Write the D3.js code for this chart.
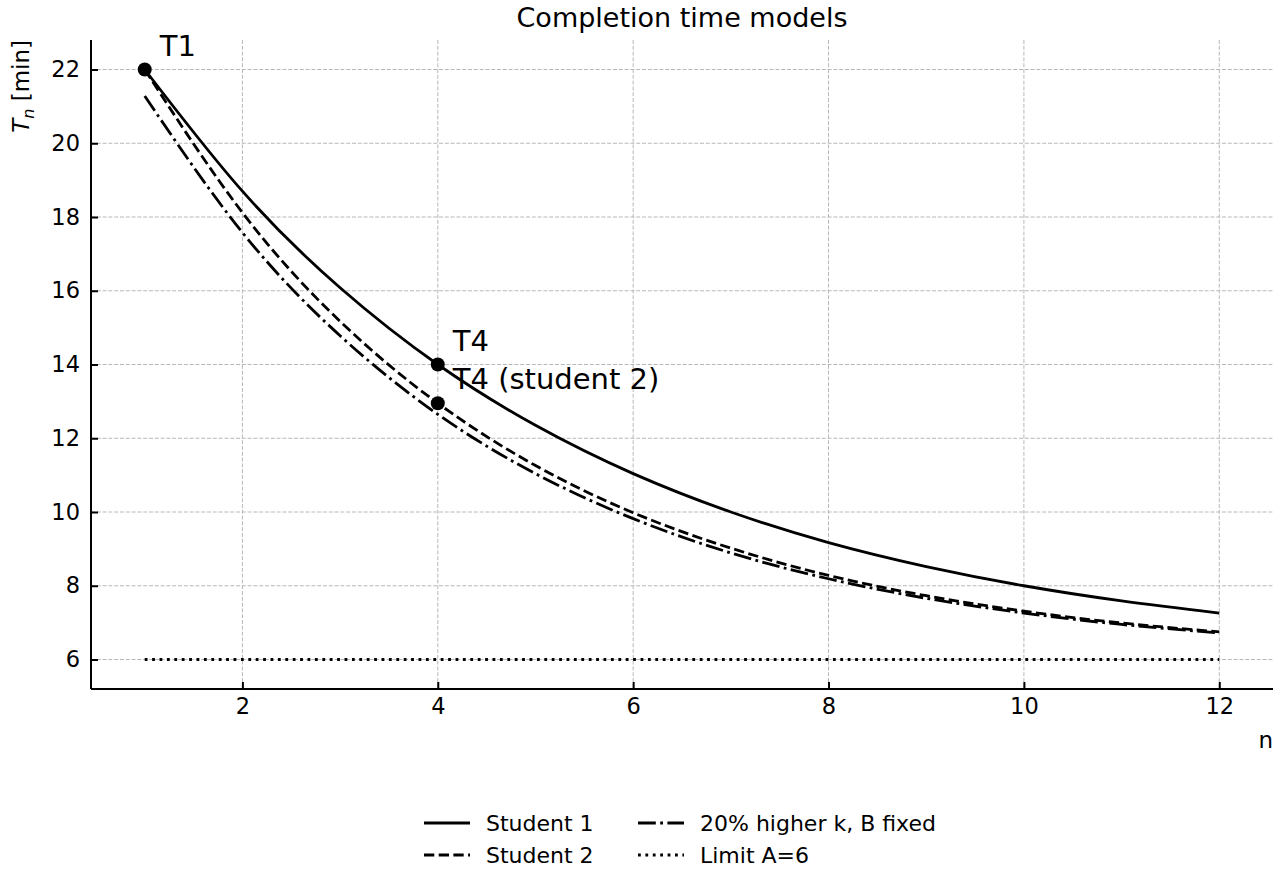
<!DOCTYPE html>
<html>
<head>
<meta charset="utf-8">
<script src="https://cdn.jsdelivr.net/npm/d3@7"></script>
<style>
    html, body { margin: 0; padding: 0; background: #fff; }
    svg { display: block; font-family: "DejaVu Sans", sans-serif; }
    .grid line { stroke: #b8b8b8; stroke-width: 1; stroke-dasharray: 4,1.8; }
</style>
</head>
<body>
<svg id="chart" width="1280" height="880"></svg>
<script>
// values, n = 1..12
var nValues = [1, 2, 3, 4, 5, 6, 7, 8, 9, 10, 11, 12];
var student1 = [22.00, 18.70, 16.08, 14.00, 12.35, 11.04, 10.00, 9.17, 8.52, 8.00, 7.59, 7.26];
var student2 = [22.00, 18.12, 15.17, 12.95, 11.26, 9.98, 9.02, 8.28, 7.73, 7.31, 6.99, 6.75];
var higherK = [21.28, 17.58, 14.78, 12.65, 11.04, 9.82, 8.89, 8.19, 7.66, 7.26, 6.95, 6.72];
var limitA = [6, 6];
var limitN = [1, 12];
var xTicks = [2, 4, 6, 8, 10, 12];
var yTicks = [6, 8, 10, 12, 14, 16, 18, 20, 22];
var markers = [
    {n: 1, t: 22.00, label: 'T1'},
    {n: 4, t: 14.00, label: 'T4'},
    {n: 4, t: 12.95, label: 'T4 (student 2)'}
];

var svg = d3.select('#chart');
var margin = {left: 91, right: 7, top: 40, bottom: 191};
var width = 1280 - margin.left - margin.right,
    height = 880 - margin.top - margin.bottom;

var x = d3.scaleLinear().domain([0.45, 12.55]).range([0, width]);
var y = d3.scaleLinear().domain([5.2, 22.8]).range([height, 0]);

var g = svg.append('g').attr('transform', 'translate(' + margin.left + ',' + margin.top + ')');

// grid
var grid = g.append('g').attr('class', 'grid');
grid.selectAll('line.gx').data(xTicks).enter().append('line')
    .attr('x1', function (d) { return x(d); }).attr('x2', function (d) { return x(d); })
    .attr('y1', 0).attr('y2', height);
grid.selectAll('line.gy').data(yTicks).enter().append('line')
    .attr('y1', function (d) { return y(d); }).attr('y2', function (d) { return y(d); })
    .attr('x1', 0).attr('x2', width);

// series
var series = [
    {name: 'Student 1', values: student1, dash: null},
    {name: 'Student 2', values: student2, dash: '10.3,4.4'},
    {name: '20% higher k, B fixed', values: higherK, dash: '17.8,4.4,2.8,4.4'}
];
var line = d3.line()
    .x(function (d) { return x(d[0]); })
    .y(function (d) { return y(d[1]); })
    .curve(d3.curveNatural);

series.forEach(function (s) {
    g.append('path')
        .datum(nValues.map(function (n, i) { return [n, s.values[i]]; }))
        .attr('d', line)
        .attr('fill', 'none')
        .attr('stroke', '#000')
        .attr('stroke-width', 2.8)
        .attr('stroke-dasharray', s.dash);
});
g.append('path')
    .datum(limitN.map(function (n, i) { return [n, limitA[i]]; }))
    .attr('d', d3.line().x(function (d) { return x(d[0]); }).y(function (d) { return y(d[1]); }))
    .attr('fill', 'none')
    .attr('stroke', '#000')
    .attr('stroke-width', 2.8)
    .attr('stroke-dasharray', '2.8,4.6');

// markers + annotations
g.selectAll('circle.pt').data(markers).enter().append('circle')
    .attr('cx', function (d) { return x(d.n); })
    .attr('cy', function (d) { return y(d.t); })
    .attr('r', 7)
    .attr('fill', '#000');
g.selectAll('text.ann').data(markers).enter().append('text')
    .attr('x', function (d) { return x(d.n) + 15; })
    .attr('y', function (d) { return y(d.t) - 14; })
    .style('font-size', '29px')
    .text(function (d) { return d.label; });

// axes (ticks inward, no top/right spine)
var xAxis = d3.axisBottom(x).tickValues(xTicks).tickSize(-7).tickPadding(9).tickFormat(d3.format('d'));
var yAxis = d3.axisLeft(y).tickValues(yTicks).tickSize(-7).tickPadding(11).tickFormat(d3.format('d'));
var gx = g.append('g').attr('transform', 'translate(0,' + height + ')').call(xAxis);
var gy = g.append('g').call(yAxis);
[gx, gy].forEach(function (a) {
    a.attr('font-size', null).attr('font-family', null);
    a.select('.domain').attr('stroke-width', 2).attr('stroke', '#000');
    a.selectAll('.tick line').attr('stroke-width', 2).attr('stroke', '#000');
    a.selectAll('.tick text').style('font-size', '22.5px').attr('fill', '#000');
});
gx.select('.domain').attr('d', 'M0,0H' + width);
gy.select('.domain').attr('d', 'M0,' + height + 'V0');

// labels
svg.append('text')
    .attr('x', margin.left + width / 2).attr('y', 27)
    .attr('text-anchor', 'middle')
    .style('font-size', '27px')
    .text('Completion time models');
svg.append('text')
    .attr('x', margin.left + width).attr('y', 748)
    .attr('text-anchor', 'end')
    .style('font-size', '23px')
    .text('n');
var yl = svg.append('text')
    .attr('transform', 'translate(29,' + margin.top + ') rotate(-90)')
    .attr('text-anchor', 'end')
    .style('font-size', '23px');
yl.append('tspan').style('font-style', 'italic').text('T');
yl.append('tspan').style('font-style', 'italic').style('font-size', '16px').attr('dy', 5).text('n');
yl.append('tspan').attr('dy', -5).text(' [min]');

// legend, two columns
var legendItems = [
    {name: 'Student 1', dash: null, col: 0, row: 0},
    {name: 'Student 2', dash: '10.3,4.4', col: 0, row: 1},
    {name: '20% higher k, B fixed', dash: '17.8,4.4,2.8,4.4', col: 1, row: 0},
    {name: 'Limit A=6', dash: '2.8,4.6', col: 1, row: 1}
];
var colX = [424, 638], rowY = [823, 855];
var lg = svg.append('g');
legendItems.forEach(function (d) {
    var lx = colX[d.col], ly = rowY[d.row];
    lg.append('line')
        .attr('x1', lx).attr('x2', lx + 46).attr('y1', ly).attr('y2', ly)
        .attr('stroke', '#000').attr('stroke-width', 2.8)
        .attr('stroke-dasharray', d.dash);
    lg.append('text')
        .attr('x', lx + 62).attr('y', ly + 8)
        .style('font-size', '22px')
        .text(d.name);
});
</script>
</body>
</html>
